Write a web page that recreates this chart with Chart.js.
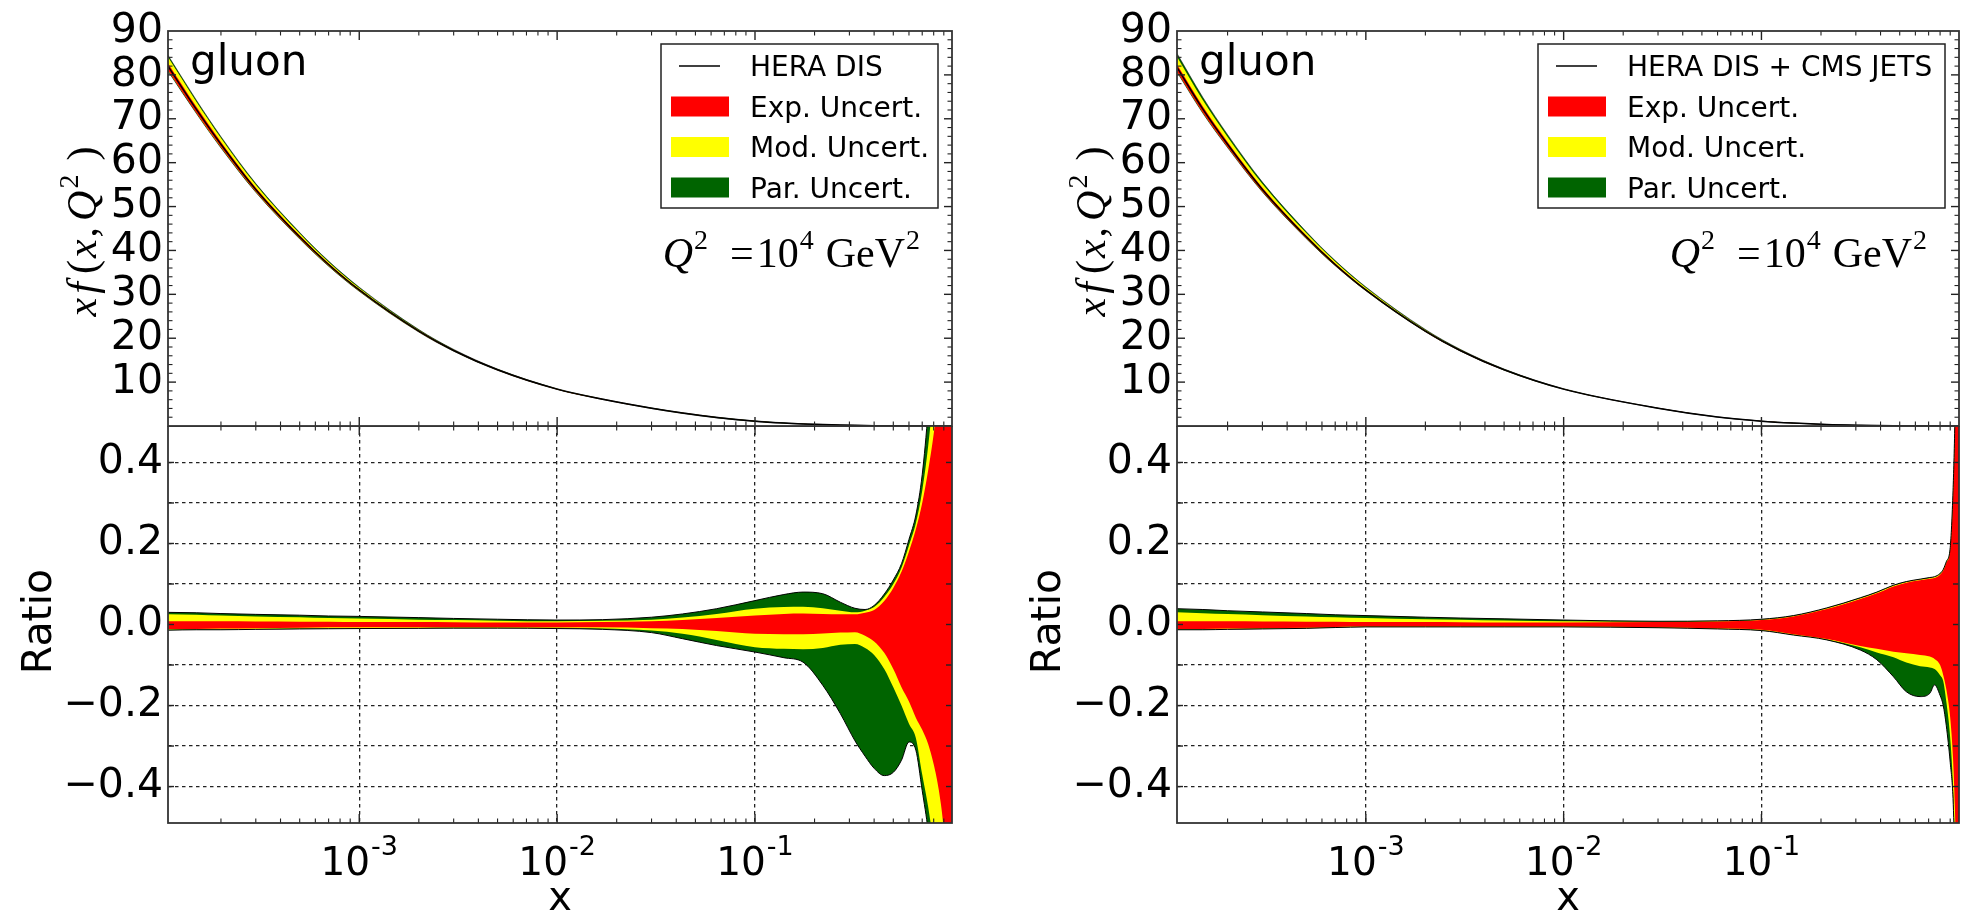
<!DOCTYPE html>
<html><head><meta charset="utf-8">
<script src="https://cdn.jsdelivr.net/npm/chart.js@4.4.1/dist/chart.umd.min.js"></script>
<style>
html,body{margin:0;padding:0;background:#fff;width:1966px;height:912px;overflow:hidden}
canvas{position:absolute}
</style></head><body>
<canvas id="lu" width="980" height="430" style="left:0px;top:0px"></canvas>
<canvas id="ll" width="980" height="486" style="left:0px;top:426px"></canvas>
<canvas id="ru" width="986" height="430" style="left:980px;top:0px"></canvas>
<canvas id="rl" width="986" height="486" style="left:980px;top:426px"></canvas>
<script>
// ---------------- DATA ----------------
// tick positions / labels
const xMajorTicks = [1e-3, 1e-2, 1e-1];
const xTickBase = '10';
const xTickExps = ['-3', '-2', '-1'];
const xMinorTicks = [2e-4,3e-4,4e-4,5e-4,6e-4,7e-4,8e-4,9e-4,
                     2e-3,3e-3,4e-3,5e-3,6e-3,7e-3,8e-3,9e-3,
                     0.02,0.03,0.04,0.05,0.06,0.07,0.08,0.09,
                     0.2,0.3,0.4,0.5,0.6,0.7,0.8,0.9];
const yUpperTicks = [10,20,30,40,50,60,70,80,90];
const yUpperMinor = [2,4,6,8,12,14,16,18,22,24,26,28,32,34,36,38,42,44,46,48,
                     52,54,56,58,62,64,66,68,72,74,76,78,82,84,86,88];
const yLowerTicks  = [-0.4,-0.3,-0.2,-0.1,0,0.1,0.2,0.3,0.4];
const yLowerLabels = ['\u22120.4','','\u22120.2','','0.0','','0.2','','0.4'];

// ---- left: HERA DIS ----
const xL = [1.08e-4,1.5e-4,2e-4,3e-4,5e-4,7e-4,1e-3,2e-3,3e-3,5e-3,1e-2,0.017,0.03,0.043,0.064,0.1,0.14,0.175,0.22,0.27,0.32,0.36,0.4,0.45,0.5,0.55,0.6,0.65,0.7,0.75,0.8,0.85,0.9,0.95,0.99];
const centralL = [82.0,72.2,64.2,53.9,43.1,36.8,31.0,21.6,17.2,12.8,8.4,6.1,4.06,2.96,1.95,1.11,0.68,0.48,0.32,0.21,0.143,0.105,0.077,0.052,0.035,0.023,0.015,0.0093,0.0056,0.0031,0.0016,0.0007,0.0003,0.00005,0];
const parHiL = [0.030,0.029,0.027,0.025,0.023,0.021,0.020,0.017,0.015,0.013,0.011,0.012,0.018,0.026,0.039,0.059,0.074,0.080,0.076,0.055,0.040,0.037,0.047,0.075,0.11,0.15,0.21,0.27,0.37,0.53,0.75,1.0,1.3,1.6,2.0];
const modHiL = [0.025,0.024,0.022,0.020,0.018,0.016,0.015,0.012,0.011,0.0095,0.008,0.009,0.012,0.017,0.026,0.039,0.043,0.044,0.040,0.034,0.030,0.034,0.043,0.068,0.10,0.14,0.195,0.25,0.33,0.44,0.58,0.75,1.0,1.3,1.7];
const expHiL = [0.008,0.008,0.008,0.0075,0.007,0.0065,0.006,0.006,0.0055,0.005,0.005,0.006,0.008,0.011,0.016,0.022,0.026,0.027,0.026,0.025,0.025,0.029,0.036,0.058,0.09,0.13,0.18,0.235,0.30,0.38,0.47,0.58,0.75,1.0,1.4];
const expLoL = [-0.011,-0.011,-0.010,-0.009,-0.008,-0.007,-0.0066,-0.0066,-0.0066,-0.0066,-0.0066,-0.007,-0.009,-0.011,-0.016,-0.023,-0.024,-0.024,-0.022,-0.020,-0.019,-0.028,-0.042,-0.070,-0.11,-0.155,-0.19,-0.23,-0.26,-0.295,-0.345,-0.41,-0.51,-0.70,-1.0];
const modLoL = [-0.013,-0.012,-0.012,-0.011,-0.010,-0.0095,-0.009,-0.0085,-0.008,-0.008,-0.008,-0.010,-0.015,-0.023,-0.038,-0.056,-0.060,-0.061,-0.058,-0.050,-0.048,-0.058,-0.075,-0.11,-0.155,-0.20,-0.245,-0.28,-0.37,-0.45,-0.55,-0.70,-0.90,-1.2,-1.6];
const parLoL = [-0.014,-0.013,-0.013,-0.012,-0.011,-0.0105,-0.010,-0.0095,-0.009,-0.009,-0.010,-0.012,-0.020,-0.035,-0.052,-0.068,-0.082,-0.093,-0.15,-0.22,-0.287,-0.325,-0.355,-0.373,-0.365,-0.335,-0.29,-0.31,-0.41,-0.51,-0.65,-0.80,-1.0,-1.3,-1.7];

// ---- right: HERA DIS + CMS JETS ----
const xR = [1.11e-4,1.5e-4,2e-4,3e-4,5e-4,7e-4,1e-3,2e-3,3e-3,5e-3,1e-2,0.03,0.06,0.1,0.145,0.214,0.316,0.383,0.465,0.54,0.634,0.71,0.75,0.8,0.83,0.86,0.9,0.93,0.95,0.97,0.997];
const centralR = [81.7,72.2,64.2,53.9,43.1,36.8,31.0,21.6,17.2,12.8,8.4,4.06,2.05,1.11,0.66,0.33,0.148,0.088,0.046,0.025,0.011,0.0052,0.0031,0.0016,0.001,0.0006,0.0003,0.00015,0.00005,0.00002,0];
const parHiR = [0.039,0.037,0.034,0.031,0.027,0.024,0.022,0.018,0.016,0.014,0.011,0.008,0.009,0.013,0.022,0.041,0.066,0.080,0.097,0.106,0.112,0.116,0.118,0.126,0.136,0.155,0.19,0.33,0.5,0.8,1.2];
const modHiR = [0.030,0.028,0.026,0.023,0.020,0.018,0.016,0.013,0.012,0.010,0.008,0.007,0.0085,0.012,0.021,0.040,0.065,0.079,0.096,0.105,0.111,0.115,0.117,0.125,0.135,0.154,0.188,0.32,0.49,0.78,1.18];
const expHiR = [0.008,0.008,0.008,0.0075,0.007,0.0065,0.006,0.006,0.0055,0.005,0.005,0.006,0.0075,0.011,0.020,0.038,0.063,0.077,0.094,0.103,0.109,0.113,0.115,0.123,0.133,0.152,0.185,0.31,0.48,0.76,1.15];
const expLoR = [-0.011,-0.011,-0.010,-0.009,-0.008,-0.006,-0.005,-0.005,-0.005,-0.005,-0.005,-0.007,-0.010,-0.013,-0.024,-0.036,-0.053,-0.060,-0.067,-0.071,-0.075,-0.079,-0.085,-0.10,-0.125,-0.16,-0.23,-0.33,-0.45,-0.65,-1.0];
const modLoR = [-0.012,-0.012,-0.011,-0.010,-0.009,-0.007,-0.0055,-0.0055,-0.0055,-0.0055,-0.0055,-0.0075,-0.0105,-0.014,-0.025,-0.037,-0.056,-0.069,-0.081,-0.094,-0.103,-0.106,-0.11,-0.125,-0.14,-0.19,-0.28,-0.40,-0.55,-0.75,-1.1];
const parLoR = [-0.013,-0.013,-0.012,-0.011,-0.0095,-0.0075,-0.006,-0.006,-0.006,-0.006,-0.006,-0.008,-0.011,-0.015,-0.026,-0.038,-0.063,-0.087,-0.129,-0.166,-0.178,-0.170,-0.149,-0.175,-0.20,-0.25,-0.34,-0.43,-0.58,-0.8,-1.2];

const legendEntries = ['Exp. Uncert.', 'Mod. Uncert.', 'Par. Uncert.'];

// ---------------- STYLE / HELPERS ----------------
const RED = '#ff0000', YELLOW = '#ffff00', GREEN = '#006400';
const SANS = '"DejaVu Sans", sans-serif';
const SERIF = '"Liberation Serif", "DejaVu Serif", serif';
const NONE = 'rgba(0,0,0,0)';

function pts(xs, ys) { return xs.map((x, i) => ({x: x, y: ys[i]})); }
// upper-panel band edge = central value scaled by the relative uncertainty shown in the ratio panel
function scaled(central, rel) { return central.map((c, i) => c * (1 + rel[i])); }

function drawRich(ctx, segs, x, y, align, rot) {
  ctx.save();
  let total = 0;
  const w = segs.map((s, i) => { ctx.font = s.font; const m = ctx.measureText(s.t).width; total += m + (i < segs.length - 1 ? (s.gap || 0) : 0); return m; });
  ctx.translate(x, y);
  if (rot) ctx.rotate(rot);
  let cx = align === 'center' ? -total / 2 : (align === 'right' ? -total : 0);
  ctx.textAlign = 'left'; ctx.textBaseline = 'alphabetic'; ctx.fillStyle = '#000';
  segs.forEach((s, i) => { ctx.font = s.font; ctx.fillText(s.t, cx, s.dy || 0); cx += w[i] + (s.gap || 0); });
  ctx.restore();
}

function bandDatasets(xs, hiLo, edgeW) {
  const ds = [];
  const add = (hi, lo, color, order, edge) => {
    const i = ds.length;
    ds.push({data: pts(xs, hi), fill: {target: i + 1}, backgroundColor: color,
             borderColor: edge ? '#000' : NONE, borderWidth: edge, order: order});
    ds.push({data: pts(xs, lo), fill: false, backgroundColor: color,
             borderColor: edge ? '#000' : NONE, borderWidth: edge, order: order});
  };
  add(hiLo.parHi, hiLo.parLo, GREEN, 3, edgeW);
  add(hiLo.modHi, hiLo.modLo, YELLOW, 2, 0);
  add(hiLo.expHi, hiLo.expLo, RED, 1, 0);
  return ds;
}

function frameAndTicks(chart, yMajor, yMinor, yLen) {
  const ctx = chart.ctx, ca = chart.chartArea, xs = chart.scales.x, ys = chart.scales.y;
  ctx.save();
  ctx.strokeStyle = '#222';
  const seg = (x1, y1, x2, y2, w) => { ctx.lineWidth = w; ctx.beginPath(); ctx.moveTo(x1, y1); ctx.lineTo(x2, y2); ctx.stroke(); };
  const xt = (vals, len, w) => vals.forEach(v => { const p = xs.getPixelForValue(v); if (p <= ca.left + 1 || p >= ca.right - 1) return; seg(p, ca.top, p, ca.top + len, w); seg(p, ca.bottom, p, ca.bottom - len, w); });
  const yt = (vals, len, w) => vals.forEach(v => { const p = ys.getPixelForValue(v); if (p <= ca.top + 1 || p >= ca.bottom - 1) return; seg(ca.left, p, ca.left + len, p, w); seg(ca.right, p, ca.right - len, p, w); });
  xt(xMajorTicks, 9, 1.4);
  xt(xMinorTicks, 4.5, 1.1);
  yt(yMajor, yLen, 1.4);
  if (yMinor) yt(yMinor, 4.5, 1.1);
  ctx.strokeStyle = '#333'; ctx.lineWidth = 1.8;
  ctx.strokeRect(ca.left, ca.top, ca.right - ca.left, ca.bottom - ca.top);
  ctx.restore();
}

const fixY = (w) => (s) => { s.width = w; s.paddingTop = 0; s.paddingBottom = 0; s.paddingLeft = 0; s.paddingRight = 0; };
const fixX = (s) => { s.height = 0; s.paddingTop = 0; s.paddingBottom = 0; s.paddingLeft = 0; s.paddingRight = 0; };

function makeUpper(id, xs, central, rel, xmin, xmax, yW, padRight, legendLabel, legendW) {
  const datasets = bandDatasets(xs, {
      parHi: scaled(central, rel.parHi), parLo: scaled(central, rel.parLo),
      modHi: scaled(central, rel.modHi), modLo: scaled(central, rel.modLo),
      expHi: scaled(central, rel.expHi), expLo: scaled(central, rel.expLo)}, 0.5);
  datasets.push({data: pts(xs, central), borderColor: '#000', borderWidth: 1.5, fill: false, order: 0});
  const plugin = {
    id: 'decorU',
    afterDraw(chart) {
      const ctx = chart.ctx, ca = chart.chartArea;
      frameAndTicks(chart, yUpperTicks, yUpperMinor, 8);
      ctx.save();
      ctx.fillStyle = '#000'; ctx.textBaseline = 'alphabetic'; ctx.textAlign = 'left';
      ctx.font = '42px ' + SANS;
      ctx.fillText('gluon', ca.left + 22, ca.top + 44);
      // Q^2 = 10^4 GeV^2
      const big = '42px ' + SERIF, sm = '28px ' + SERIF;
      drawRich(ctx, [
        {t: 'Q', font: 'italic ' + big, gap: 1},
        {t: '2', font: sm, dy: -18, gap: 22},
        {t: '=', font: big, gap: 3},
        {t: '10', font: big, gap: 1},
        {t: '4', font: sm, dy: -18, gap: 12},
        {t: 'GeV', font: big, gap: 1},
        {t: '2', font: sm, dy: -18}
      ], ca.right - 32, ca.top + 236, 'right');
      // y label  x f(x, Q^2)
      drawRich(ctx, [
        {t: 'x', font: 'italic ' + big, gap: 4},
        {t: 'f', font: 'italic ' + big, gap: 8},
        {t: '(', font: big, gap: 2},
        {t: 'x', font: 'italic ' + big, gap: 2},
        {t: ',', font: big, gap: 6},
        {t: 'Q', font: 'italic ' + big, gap: 2},
        {t: '2', font: sm, dy: -18, gap: 14},
        {t: ')', font: big}
      ], ca.left - 72, (ca.top + ca.bottom) / 2 + 3, 'center', -Math.PI / 2);
      // legend
      const bx = ca.right - 14 - legendW, by = ca.top + 13, bh = 164;
      ctx.fillStyle = '#fff'; ctx.fillRect(bx, by, legendW, bh);
      ctx.strokeStyle = '#222'; ctx.lineWidth = 1.5; ctx.strokeRect(bx, by, legendW, bh);
      ctx.font = '28px ' + SANS; ctx.textBaseline = 'alphabetic';
      const rows = [{line: true, text: legendLabel},
                    {color: RED, text: legendEntries[0]},
                    {color: YELLOW, text: legendEntries[1]},
                    {color: GREEN, text: legendEntries[2]}];
      rows.forEach((r, i) => {
        const ry = by + 22 + i * 40.5;
        if (r.line) {
          ctx.strokeStyle = '#000'; ctx.lineWidth = 1.3;
          ctx.beginPath(); ctx.moveTo(bx + 18, ry); ctx.lineTo(bx + 59, ry); ctx.stroke();
        } else {
          ctx.fillStyle = r.color; ctx.fillRect(bx + 10, ry - 10, 58, 20);
        }
        ctx.fillStyle = '#000';
        ctx.fillText(r.text, bx + 89, ry + 10);
      });
      ctx.restore();
    }
  };
  return new Chart(document.getElementById(id), {
    type: 'line',
    data: {datasets: datasets},
    options: {
      responsive: false, animation: false, devicePixelRatio: 1, events: [],
      layout: {padding: {top: 31, right: padRight, bottom: 4, left: 0}},
      elements: {point: {radius: 0}, line: {cubicInterpolationMode: 'monotone'}},
      plugins: {legend: {display: false}, tooltip: {enabled: false}, filler: {drawTime: 'beforeDatasetsDraw', propagate: false}},
      scales: {
        x: {type: 'logarithmic', min: xmin, max: xmax,
            afterBuildTicks: s => { s.ticks = xMajorTicks.map(v => ({value: v})); },
            afterFit: fixX,
            ticks: {display: false}, grid: {display: false, drawTicks: false}, border: {display: false}},
        y: {type: 'linear', min: 0, max: 90,
            afterBuildTicks: s => { s.ticks = yUpperTicks.map(v => ({value: v})); },
            afterFit: fixY(yW),
            ticks: {color: '#000', padding: 5, autoSkip: false, font: {family: SANS, size: 41}},
            grid: {display: false, drawTicks: false}, border: {display: false}}
      }
    },
    plugins: [plugin]
  });
}

function makeLower(id, xs, rel, xmin, xmax, yW, padRight) {
  const datasets = bandDatasets(xs, rel, 1.0);
  const plugin = {
    id: 'decorL',
    afterDraw(chart) {
      const ctx = chart.ctx, ca = chart.chartArea, xsc = chart.scales.x;
      frameAndTicks(chart, yLowerTicks, null, 6);
      ctx.save();
      xMajorTicks.forEach((v, i) => {
        const p = xsc.getPixelForValue(v);
        drawRich(ctx, [
          {t: xTickBase, font: '39px ' + SANS, gap: 1},
          {t: xTickExps[i], font: '27px ' + SANS, dy: -20}
        ], p, ca.bottom + 52, 'center');
      });
      ctx.fillStyle = '#000'; ctx.textAlign = 'center'; ctx.textBaseline = 'alphabetic';
      ctx.font = '40px ' + SANS;
      ctx.fillText('x', (ca.left + ca.right) / 2, ca.bottom + 87);
      ctx.translate(ca.left - 117, (ca.top + ca.bottom) / 2 - 3);
      ctx.rotate(-Math.PI / 2);
      ctx.font = '41px ' + SANS;
      ctx.fillText('Ratio', 0, 0);
      ctx.restore();
    }
  };
  return new Chart(document.getElementById(id), {
    type: 'line',
    data: {datasets: datasets},
    options: {
      responsive: false, animation: false, devicePixelRatio: 1, events: [],
      layout: {padding: {top: 0, right: padRight, bottom: 89, left: 0}},
      elements: {point: {radius: 0}, line: {cubicInterpolationMode: 'monotone'}},
      plugins: {legend: {display: false}, tooltip: {enabled: false}, filler: {drawTime: 'beforeDatasetsDraw', propagate: false}},
      scales: {
        x: {type: 'logarithmic', min: xmin, max: xmax, z: 1,
            afterBuildTicks: s => { s.ticks = xMajorTicks.map(v => ({value: v})); },
            afterFit: fixX,
            ticks: {display: false},
            grid: {display: true, drawTicks: false, color: '#222', lineWidth: 1.3},
            border: {display: false, dash: [3.5, 3.5]}},
        y: {type: 'linear', min: -0.49, max: 0.49, z: 1,
            afterBuildTicks: s => { s.ticks = yLowerTicks.map(v => ({value: v})); },
            afterFit: fixY(yW),
            ticks: {color: '#000', padding: 5, autoSkip: false, font: {family: SANS, size: 41},
                    callback: (v, i) => yLowerLabels[i]},
            grid: {display: true, drawTicks: false, color: '#222', lineWidth: 1.3},
            border: {display: false, dash: [3.5, 3.5]}}
      }
    },
    plugins: [plugin]
  });
}

const relL = {parHi: parHiL, parLo: parLoL, modHi: modHiL, modLo: modLoL, expHi: expHiL, expLo: expLoL};
const relR = {parHi: parHiR, parLo: parLoR, modHi: modHiR, modLo: modLoR, expHi: expHiR, expLo: expLoR};

makeUpper('lu', xL, centralL, relL, 1.08e-4, 0.99, 168, 28, 'HERA DIS', 277);
makeLower('ll', xL, relL, 1.08e-4, 0.99, 168, 28);
makeUpper('ru', xR, centralR, relR, 1.11e-4, 0.997, 197, 7, 'HERA DIS + CMS JETS', 407);
makeLower('rl', xR, relR, 1.11e-4, 0.997, 197, 7);
</script>
</body></html>
